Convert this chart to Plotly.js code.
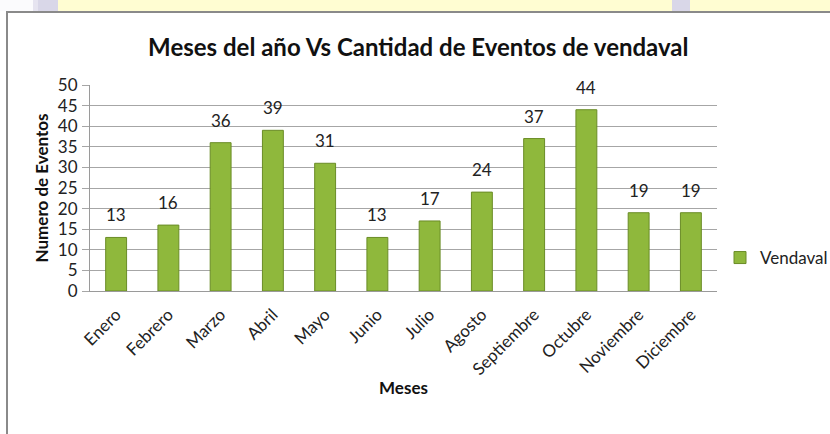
<!DOCTYPE html>
<html>
<head>
<meta charset="utf-8">
<script src="https://cdn.plot.ly/plotly-3.0.1.min.js"></script>
<style>
  html, body { margin: 0; padding: 0; background: #ffffff; }
  #wrap { position: relative; width: 830px; height: 434px; overflow: hidden; background: #ffffff; }
  .strip { position: absolute; top: 0; height: 11px; }
  #frameTop { position: absolute; left: 6px; top: 11px; width: 824px; height: 2px; background: #8a8a8a; }
  #frameLeft { position: absolute; left: 6px; top: 11px; width: 2px; height: 423px; background: #8a8a8a; }
  #chart { position: absolute; left: 0; top: 0; width: 830px; height: 434px; }
</style>
</head>
<body>
<div id="wrap">
  <div class="strip" style="left:0;width:33px;background:#fbfbfd;"></div>
  <div class="strip" style="left:33px;width:5px;background:#e6e4f0;"></div>
  <div class="strip" style="left:38px;width:20px;background:#d9d7e8;"></div>
  <div class="strip" style="left:58px;width:614px;background:#fffdd2;"></div>
  <div class="strip" style="left:672px;width:18px;background:#d9d7e8;"></div>
  <div class="strip" style="left:690px;width:140px;background:#fffdd2;"></div>
  <div id="chart"></div>
  <div id="frameTop"></div>
  <div id="frameLeft"></div>
</div>
<script>
const months = ["Enero","Febrero","Marzo","Abril","Mayo","Junio","Julio","Agosto","Septiembre","Octubre","Noviembre","Diciembre"];
const vendaval = [13, 16, 36, 39, 31, 13, 17, 24, 37, 44, 19, 19];
const yTicks = [0,5,10,15,20,25,30,35,40,45,50];

const FONT = "Lato, 'Open Sans', sans-serif";

const trace = {
  type: "bar",
  name: "Vendaval",
  x: months,
  y: vendaval,
  marker: { color: "#8fb83c", line: { color: "#6a8c26", width: 1 } },
  hoverinfo: "x+y"
};

const labels = months.map((m, i) => ({
  x: m, y: vendaval[i], xref: "x", yref: "y",
  text: String(vendaval[i]),
  showarrow: false, yanchor: "bottom", yshift: 10,
  font: { family: FONT, size: 17, color: "#222222" }
}));

const layout = {
  width: 830,
  height: 434,
  paper_bgcolor: "rgba(0,0,0,0)",
  plot_bgcolor: "rgba(0,0,0,0)",
  margin: { l: 90, r: 113, t: 85, b: 143 },
  font: { family: FONT, color: "#222222" },
  title: {
    text: "<b>Meses del año Vs Cantidad de Eventos de vendaval</b>",
    font: { family: FONT, size: 24, color: "#111111" },
    xref: "container", x: 0.504, xanchor: "center",
    yref: "container", y: 1 - 48/434, yanchor: "middle"
  },
  bargap: 0.6,
  showlegend: true,
  legend: {
    xref: "container", yref: "container",
    x: 720/830, y: 1 - 258/434, xanchor: "left", yanchor: "middle",
    font: { family: FONT, size: 17, color: "#222222" },
    bgcolor: "rgba(0,0,0,0)",
    itemwidth: 30
  },
  annotations: labels,
  xaxis: {
    type: "category",
    tickangle: -45,
    tickfont: { family: FONT, size: 17, color: "#222222" },
    ticklabelstandoff: 6,
    showline: true, linecolor: "#9a9a9a", linewidth: 1,
    ticks: "", showgrid: false,
    automargin: false,
    title: { text: "<b>Meses</b>", font: { family: FONT, size: 17, color: "#111111" }, standoff: 4 }
  },
  yaxis: {
    range: [0, 50],
    tickvals: yTicks,
    ticktext: yTicks.map(String),
    tickfont: { family: FONT, size: 17, color: "#222222" },
    showgrid: true, gridcolor: "#a6a6a6", gridwidth: 1,
    showline: true, linecolor: "#9a9a9a", linewidth: 1,
    ticks: "outside", ticklen: 7, tickcolor: "#a6a6a6",
    ticklabelstandoff: 1,
    zeroline: false,
    automargin: false,
    title: { text: "<b>Numero de Eventos</b>", font: { family: FONT, size: 17, color: "#111111" }, standoff: 4 }
  }
};

Plotly.newPlot("chart", [trace], layout, { displayModeBar: false, staticPlot: true });
</script>
</body>
</html>
